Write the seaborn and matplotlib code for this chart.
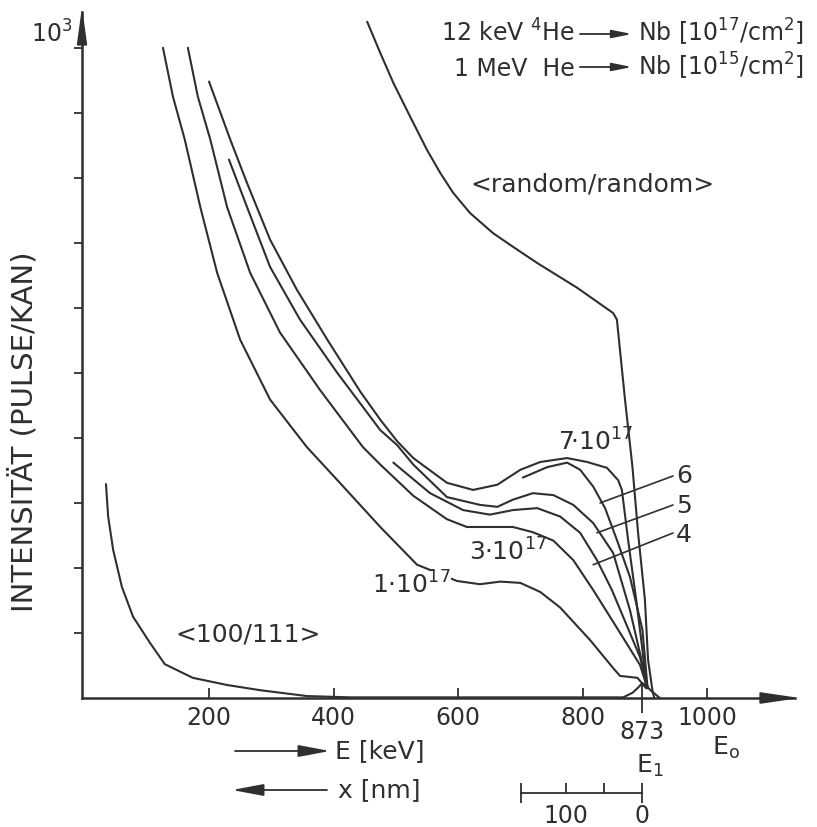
import numpy as np
import pandas as pd
import matplotlib
matplotlib.use("Agg")
import matplotlib.pyplot as plt
from matplotlib.patches import Polygon
import seaborn as sns

# ---------------- data (E in keV, intensity in counts/channel) ----------------
rand_E = [454, 475, 496, 523, 550, 571, 592, 619, 656, 688, 727, 791, 849, 855, 868, 880, 889, 900, 905, 912, 915]
rand_I = [1040, 992, 946, 894, 843, 808, 777, 746, 715, 694, 669, 631, 592, 582, 459, 355, 254, 151, 59, 12, 0]

chan_E = [34.5, 38, 46, 60, 78, 105, 129, 174, 229, 282, 357, 427, 600, 865, 880, 888, 896, 904, 910, 924]
chan_I = [329, 279, 228, 171, 125, 85, 52, 31, 20, 12, 3, 1, 1, 1, 8, 15, 23, 17, 11, 0]

d1_E = [126, 142, 161, 186, 213, 250, 298, 357, 410, 475, 534, 560, 598, 635, 668, 700, 732, 764, 812, 849, 860, 888, 902]
d1_I = [1000, 925, 859, 755, 654, 551, 459, 386, 331, 263, 205, 195, 180, 175, 179, 177, 163, 139, 89, 46, 34, 31, 15]

d3_E = [166, 182, 202, 229, 266, 314, 378, 447, 475, 528, 582, 614, 651, 688, 720, 753, 785, 817, 855, 892, 904]
d3_I = [1000, 925, 859, 755, 654, 562, 474, 386, 359, 311, 275, 263, 263, 263, 255, 242, 212, 166, 108, 51, 15]

d4_E = [496, 555, 608, 651, 688, 727, 764, 796, 823, 847, 872, 892, 904]
d4_I = [362, 315, 289, 282, 289, 292, 279, 254, 212, 166, 109, 63, 17]

d5_E = [232, 261, 298, 346, 406, 475, 502, 528, 582, 635, 663, 688, 720, 753, 785, 817, 849, 876, 892, 904]
d5_I = [828, 755, 663, 582, 500, 412, 389, 359, 309, 297, 294, 305, 315, 312, 297, 269, 223, 135, 69, 18]

d6_E = [704, 743, 775, 796, 817, 836, 855, 876, 896, 904]
d6_I = [339, 355, 362, 351, 325, 292, 243, 186, 105, 18]

d7_E = [200, 234, 261, 298, 341, 390, 443, 475, 502, 528, 582, 624, 663, 700, 732, 775, 807, 839, 857, 863, 873, 886, 896, 902]
d7_I = [948, 859, 792, 705, 628, 551, 471, 428, 395, 369, 331, 320, 328, 351, 363, 369, 363, 354, 335, 320, 243, 151, 74, 18]

x_ticks = [200, 400, 600, 800, 1000]
x_tick_labels = ["200", "400", "600", "800", "1000"]
y_ticks = [100, 200, 300, 400, 500, 600, 700, 800, 900, 1000]
E1_pos = 896          # position of the E1 mark on the drawn axis
E1_label = "873"
nm_ticks = [100, 50]
nm_labels = ["100", ""]
nm_ends = [159, 0]
nm_end_labels = ["", "0"]

series = {
    "random": (rand_E, rand_I),
    "100/111": (chan_E, chan_I),
    "1e17": (d1_E, d1_I),
    "3e17": (d3_E, d3_I),
    "4e17": (d4_E, d4_I),
    "5e17": (d5_E, d5_I),
    "6e17": (d6_E, d6_I),
    "7e17": (d7_E, d7_I),
}
frames = []
for name, (e, i) in series.items():
    frames.append(pd.DataFrame({"E": e, "I": i, "series": name}))
df = pd.concat(frames, ignore_index=True)

# ---------------- style ----------------
sns.set_theme(style="ticks")
plt.rcParams["font.family"] = ["DejaVu Sans"]
plt.rcParams["mathtext.fontset"] = "dejavusans"
INK = "#2f2f2f"
FS = 18      # text labels
FT = 17      # tick labels

W, H = 817, 827
fig = plt.figure(figsize=(W / 100, H / 100), dpi=100)
fig.patch.set_facecolor("white")

def fp(x, y):
    return (x / W, 1 - y / H)

ax = fig.add_axes([82 / W, 1 - 698 / H, (795 - 82) / W, (698 - 12) / H])
ax.set_facecolor("white")

sns.lineplot(data=df, x="E", y="I", units="series", estimator=None, sort=False,
             color=INK, linewidth=1.5, ax=ax, legend=False)

ax.set_xlim(-4, 1141)
ax.set_ylim(0, 1055)
ax.set_xlabel("")
ax.set_ylabel("")

for s in ["top", "right"]:
    ax.spines[s].set_visible(False)
for s in ["left", "bottom"]:
    ax.spines[s].set_linewidth(1.8)
    ax.spines[s].set_color(INK)

# arrow heads on the axes
ax.add_patch(Polygon([[1, 0], [0.951, 0.0075], [0.951, -0.0075]], closed=True,
                     transform=ax.transAxes, clip_on=False, color=INK, zorder=5))
ax.add_patch(Polygon([[0, 1], [-0.0063, 0.952], [0.0063, 0.952]], closed=True,
                     transform=ax.transAxes, clip_on=False, color=INK, zorder=5))

# x ticks
ax.set_xticks(x_ticks)
ax.set_xticklabels(x_tick_labels)
ax.tick_params(axis="x", which="major", direction="in", length=7, width=1.3,
               color=INK, labelsize=FT, labelcolor=INK, pad=6)
ax.set_xticks([E1_pos], minor=True)
ax.set_xticklabels([E1_label], minor=True)
ax.tick_params(axis="x", which="minor", direction="inout", length=22, width=1.3,
               color=INK, labelsize=FT, labelcolor=INK, pad=5)

# y ticks
ax.set_yticks(y_ticks)
ax.set_yticklabels([""] * (len(y_ticks) - 1) + ["10$^3$"])
ax.tick_params(axis="y", direction="out", length=6, width=1.3, color=INK,
               labelsize=FT, labelcolor=INK, pad=1)
for lab in ax.get_yticklabels():
    lab.set_verticalalignment("bottom")

# ---------------- texts ----------------
tkw = dict(color=INK, fontsize=FS)
fig.text(*fp(24, 432), "INTENSITÄT (PULSE/KAN)", rotation=90, ha="center", va="center",
         color=INK, fontsize=21)

hkw = dict(color=INK, fontsize=17)
fig.text(*fp(575, 42), "12 keV $^4$He", ha="right", va="baseline", **hkw)
fig.text(*fp(575, 76), "1 MeV  He", ha="right", va="baseline", **hkw)
fig.text(*fp(638, 42), "Nb [10$^{17}$/cm$^2$]", ha="left", va="baseline", **hkw)
fig.text(*fp(638, 76), "Nb [10$^{15}$/cm$^2$]", ha="left", va="baseline", **hkw)
for yy in (34, 67):
    ax.annotate("", xy=fp(632, yy), xycoords="figure fraction",
                xytext=fp(580, yy), textcoords="figure fraction",
                arrowprops=dict(arrowstyle="-|>,head_length=1.0,head_width=0.2",
                                color=INK, lw=1.3, shrinkA=0, shrinkB=0),
                annotation_clip=False)

fig.text(*fp(470, 184), "<random/random>", ha="left", va="center", **tkw)
fig.text(*fp(248, 634), "<100/111>", ha="center", va="center", **tkw)
fig.text(*fp(558, 451), "7·10$^{17}$", ha="left", va="baseline", **tkw)
fig.text(*fp(469, 561), "3·10$^{17}$", ha="left", va="baseline", **tkw)
fig.text(*fp(372, 594), "1·10$^{17}$", ha="left", va="baseline",
         bbox=dict(facecolor="white", edgecolor="none", pad=0.5), **tkw)

# numbered labels with leader lines
lead = [("6", 483, 476, (828, 300)), ("5", 513, 505, (823, 254)), ("4", 542, 533, (817, 205))]
for txt, ybase, ylead, xy in lead:
    fig.text(*fp(676, ybase), txt, ha="left", va="baseline", **tkw)
    ax.annotate("", xy=xy, xycoords="data", xytext=fp(673, ylead),
                textcoords="figure fraction",
                arrowprops=dict(arrowstyle="-", color=INK, lw=1.2, shrinkA=0, shrinkB=0),
                annotation_clip=False)

fig.text(*fp(650, 766), "E$_1$", ha="center", va="center", **tkw)
fig.text(*fp(726, 748), r"E$_\mathrm{o}$", ha="center", va="center", **tkw)

# energy / depth direction arrows
ax.annotate("", xy=fp(330, 751), xycoords="figure fraction", xytext=fp(235, 751),
            textcoords="figure fraction",
            arrowprops=dict(arrowstyle="-|>,head_length=1.6,head_width=0.3",
                            color=INK, lw=1.3, shrinkA=0, shrinkB=0), annotation_clip=False)
fig.text(*fp(335, 751), "E [keV]", ha="left", va="center", **tkw)
ax.annotate("", xy=fp(232, 790), xycoords="figure fraction", xytext=fp(327, 790),
            textcoords="figure fraction",
            arrowprops=dict(arrowstyle="-|>,head_length=1.6,head_width=0.3",
                            color=INK, lw=1.3, shrinkA=0, shrinkB=0), annotation_clip=False)
fig.text(*fp(338, 790), "x [nm]", ha="left", va="center", **tkw)

# depth scale bar (nm)
axn = fig.add_axes([521 / W, 1 - 793 / H, (642 - 521) / W, 0.001])
axn.set_xlim(nm_ends[0], nm_ends[1])
axn.set_ylim(0, 1)
axn.set_facecolor("none")
for s in ["top", "right", "left"]:
    axn.spines[s].set_visible(False)
axn.spines["bottom"].set_linewidth(1.3)
axn.spines["bottom"].set_color(INK)
axn.set_yticks([])
axn.set_xticks(nm_ticks)
axn.set_xticklabels(nm_labels)
axn.set_xticks(nm_ends, minor=True)
axn.set_xticklabels(nm_end_labels, minor=True)
axn.tick_params(axis="x", which="major", direction="in", length=7, width=1.3,
                color=INK, labelsize=FT, labelcolor=INK, pad=8)
axn.tick_params(axis="x", which="minor", direction="inout", length=14, width=1.3,
                color=INK, labelsize=FT, labelcolor=INK, pad=1)

fig.savefig("out.png", dpi=100, facecolor="white")
